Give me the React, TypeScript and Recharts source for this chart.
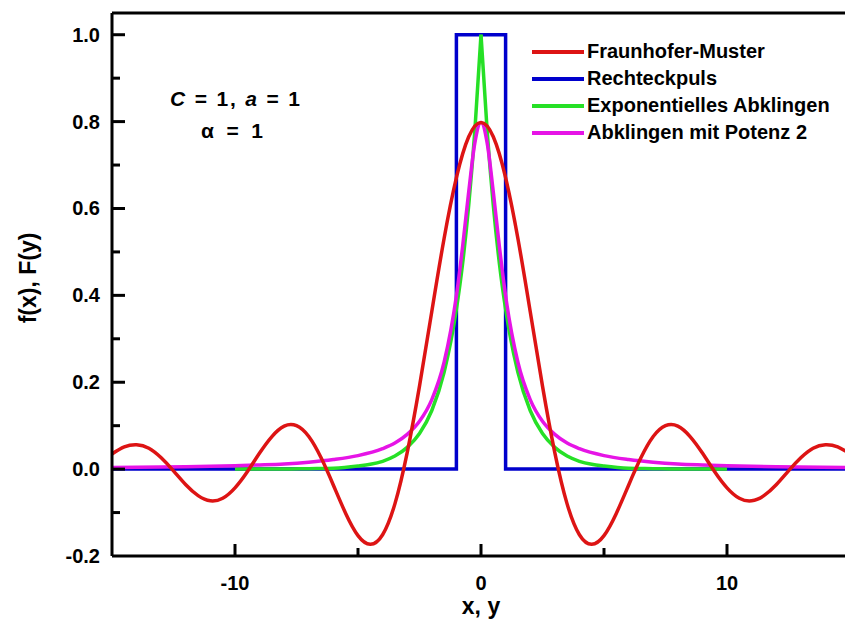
import { LineChart, Line, XAxis, YAxis, Legend } from 'recharts';

const FONT = '"Liberation Sans", Arial, Helvetica, sans-serif';
const RED = '#dd1414';
const BLUE = '#0000cc';
const GREEN = '#26e026';
const MAGENTA = '#e614e6';

// Fraunhofer-Muster, read at steps of 0.5
const SINC_X = [
  -15, -14.5, -14, -13.5, -13, -12.5, -12, -11.5, -11, -10.5, -10, -9.5, -9, -8.5, -8, -7.5,
  -7, -6.5, -6, -5.5, -5, -4.5, -4, -3.5, -3, -2.5, -2, -1.5, -1, -0.5, 0,
  0.5, 1, 1.5, 2, 2.5, 3, 3.5, 4, 4.5, 5, 5.5, 6, 6.5, 7, 7.5,
  8, 8.5, 9, 9.5, 10, 10.5, 11, 11.5, 12, 12.5, 13, 13.5, 14, 14.5, 15,
];
const FRAUNHOFER = [
  0.035, 0.051, 0.056, 0.048, 0.026, -0.004, -0.036, -0.061, -0.073, -0.067, -0.043, -0.006,
  0.037, 0.075, 0.099, 0.1, 0.075, 0.026, -0.037, -0.102, -0.153, -0.173, -0.151, -0.08,
  0.038, 0.191, 0.363, 0.531, 0.671, 0.765, 0.798,
  0.765, 0.671, 0.531, 0.363, 0.191, 0.038, -0.08, -0.151, -0.173, -0.153, -0.102, -0.037,
  0.026, 0.075, 0.1, 0.099, 0.075, 0.037, -0.006, -0.043, -0.067, -0.073, -0.061, -0.036,
  -0.004, 0.026, 0.048, 0.056, 0.051, 0.035,
];

// Rechteckpuls
const RECT_X = [-15, -1, -1, 1, 1, 15];
const RECT_Y = [0, 0, 1, 1, 0, 0];

// Exponentielles Abklingen (two halves so the tip stays sharp)
const EXP_LEFT_X = [-10, -9, -8, -7, -6, -5, -4.5, -4, -3.5, -3, -2.5, -2, -1.5, -1, -0.75, -0.5, -0.25, 0];
const EXP_LEFT = [0, 0, 0, 0.001, 0.002, 0.007, 0.011, 0.018, 0.03, 0.05, 0.082, 0.135, 0.223, 0.368, 0.472, 0.607, 0.779, 1];
const EXP_RIGHT_X = [0, 0.25, 0.5, 0.75, 1, 1.5, 2, 2.5, 3, 3.5, 4, 4.5, 5, 6, 7, 8, 9, 10];
const EXP_RIGHT = [1, 0.779, 0.607, 0.472, 0.368, 0.223, 0.135, 0.082, 0.05, 0.03, 0.018, 0.011, 0.007, 0.002, 0.001, 0, 0, 0];

// Abklingen mit Potenz 2
const POW_X = [
  -15, -12, -10, -9, -8, -7, -6, -5, -4, -3.5, -3, -2.5, -2, -1.5, -1, -0.75, -0.5, -0.25, 0,
  0.25, 0.5, 0.75, 1, 1.5, 2, 2.5, 3, 3.5, 4, 5, 6, 7, 8, 9, 10, 12, 15,
];
const POW2 = [
  0.0035, 0.0055, 0.0079, 0.0097, 0.012, 0.016, 0.022, 0.031, 0.047, 0.06, 0.08, 0.11, 0.16,
  0.246, 0.399, 0.511, 0.638, 0.751, 0.798,
  0.751, 0.638, 0.511, 0.399, 0.246, 0.16, 0.11, 0.08, 0.06, 0.047, 0.031, 0.022, 0.016,
  0.012, 0.0097, 0.0079, 0.0055, 0.0035,
];

const X_TICKS = [-15, -10, -5, 0, 5, 10, 15];
const X_LABELS = [-10, 0, 10];
const Y_TICKS = [-0.2, -0.1, 0, 0.1, 0.2, 0.3, 0.4, 0.5, 0.6, 0.7, 0.8, 0.9, 1.0];
const Y_LABELS = [-0.2, 0, 0.2, 0.4, 0.6, 0.8, 1.0];

const LEGEND_ITEMS = [
  { name: 'Fraunhofer-Muster', color: RED },
  { name: 'Rechteckpuls', color: BLUE },
  { name: 'Exponentielles Abklingen', color: GREEN },
  { name: 'Abklingen mit Potenz 2', color: MAGENTA },
];

const toPoints = (xs: number[], ys: number[]) => xs.map((x, i) => ({ x, y: ys[i] }));

const labelStyle = { fontFamily: FONT, fontWeight: 700, fontSize: 20, fill: '#000' };

function BottomTick({ x, y, payload }: any) {
  const v = payload.value;
  const major = X_LABELS.includes(v);
  const edge = Math.abs(v) === 15;
  return (
    <g>
      {!edge && <line x1={x} x2={x} y1={y} y2={y - (major ? 12 : 8)} stroke="#000" strokeWidth={3} />}
      {major && (
        <text x={x} y={y + 34} textAnchor="middle" style={labelStyle}>
          {v}
        </text>
      )}
    </g>
  );
}

function TopTick({ x, y, payload }: any) {
  const v = payload.value;
  if (Math.abs(v) === 15) return <g />;
  const major = X_LABELS.includes(v);
  return <line x1={x} x2={x} y1={y} y2={y + (major ? 12 : 8)} stroke="#000" strokeWidth={3} />;
}

function LeftTick({ x, y, payload }: any) {
  const v = payload.value;
  const major = Y_LABELS.includes(v);
  return (
    <g>
      {v !== -0.2 && <line x1={x} x2={x + (major ? 13 : 8)} y1={y} y2={y} stroke="#000" strokeWidth={3} />}
      {major && (
        <text x={x - 12} y={y + 7} textAnchor="end" style={labelStyle}>
          {v.toFixed(1)}
        </text>
      )}
    </g>
  );
}

function RightTick({ x, y, payload }: any) {
  const v = payload.value;
  if (v === -0.2) return <g />;
  const major = Y_LABELS.includes(v);
  return <line x1={x} x2={x - (major ? 13 : 8)} y1={y} y2={y} stroke="#000" strokeWidth={3} />;
}

function LegendBox() {
  return (
    <div style={{ fontFamily: FONT, fontWeight: 700, fontSize: 20, color: '#000' }}>
      {LEGEND_ITEMS.map((it) => (
        <div key={it.name} style={{ display: 'flex', alignItems: 'center', height: 27, whiteSpace: 'nowrap' }}>
          <svg width={52} height={6}>
            <line x1={0} y1={3} x2={52} y2={3} stroke={it.color} strokeWidth={4} />
          </svg>
          <span style={{ marginLeft: 3 }}>{it.name}</span>
        </div>
      ))}
    </div>
  );
}

export default function App() {
  const lineProps = { dataKey: 'y', dot: false, activeDot: false, isAnimationActive: false, strokeWidth: 3.5 } as const;
  const frame = { stroke: '#000', strokeWidth: 3 };
  return (
    <div style={{ position: 'absolute', left: 0, top: 0, width: 845, height: 627, overflow: 'hidden', background: '#fff' }}>
      <LineChart width={851} height={627} margin={{ top: 12, right: 0, bottom: 70, left: 111 }}>
        <XAxis
          type="number"
          dataKey="x"
          domain={[-15, 15]}
          ticks={X_TICKS}
          interval={0}
          height={1}
          tickSize={0}
          tickMargin={0}
          tickLine={false}
          axisLine={frame}
          tick={<BottomTick />}
        />
        <XAxis
          xAxisId="top"
          orientation="top"
          type="number"
          domain={[-15, 15]}
          ticks={X_TICKS}
          interval={0}
          height={1}
          tickSize={0}
          tickMargin={0}
          tickLine={false}
          axisLine={frame}
          tick={<TopTick />}
        />
        <YAxis
          type="number"
          domain={[-0.2, 1.05]}
          ticks={Y_TICKS}
          interval={0}
          width={1}
          tickSize={0}
          tickMargin={0}
          tickLine={false}
          axisLine={frame}
          tick={<LeftTick />}
        />
        <YAxis
          yAxisId="right"
          orientation="right"
          type="number"
          domain={[-0.2, 1.05]}
          ticks={Y_TICKS}
          interval={0}
          width={1}
          tickSize={0}
          tickMargin={0}
          tickLine={false}
          axisLine={frame}
          tick={<RightTick />}
        />
        <Line {...lineProps} data={toPoints(RECT_X, RECT_Y)} type="linear" stroke={BLUE} name="Rechteckpuls" />
        <Line {...lineProps} data={toPoints(EXP_LEFT_X, EXP_LEFT)} type="monotone" stroke={GREEN} name="Exponentielles Abklingen" />
        <Line {...lineProps} data={toPoints(EXP_RIGHT_X, EXP_RIGHT)} type="monotone" stroke={GREEN} name="Exponentielles Abklingen " />
        <Line {...lineProps} data={toPoints(POW_X, POW2)} type="monotone" stroke={MAGENTA} name="Abklingen mit Potenz 2" />
        <Line {...lineProps} data={toPoints(SINC_X, FRAUNHOFER)} type="natural" stroke={RED} name="Fraunhofer-Muster" />
        <Legend
          content={<LegendBox />}
          layout="vertical"
          align="center"
          verticalAlign="middle"
          wrapperStyle={{ left: 532, top: 38, width: 320, height: 110 }}
        />
        <text x={235} y={106} textAnchor="middle" textLength={130} lengthAdjust="spacing" style={{ fontFamily: FONT, fontWeight: 700, fontSize: 21 }}>
          <tspan fontStyle="italic">C</tspan> = 1, <tspan fontStyle="italic">a</tspan> = 1
        </text>
        <text x={232} y={138} textAnchor="middle" textLength={62} lengthAdjust="spacing" style={{ fontFamily: FONT, fontWeight: 700, fontSize: 21 }}>
          α = 1
        </text>
        <text x={481} y={614} textAnchor="middle" style={{ fontFamily: FONT, fontWeight: 700, fontSize: 23 }}>
          x, y
        </text>
        <text
          x={36}
          y={278}
          textAnchor="middle"
          transform="rotate(-90 36 278)"
          style={{ fontFamily: FONT, fontWeight: 700, fontSize: 23 }}
        >
          f(x), F(y)
        </text>
      </LineChart>
    </div>
  );
}
